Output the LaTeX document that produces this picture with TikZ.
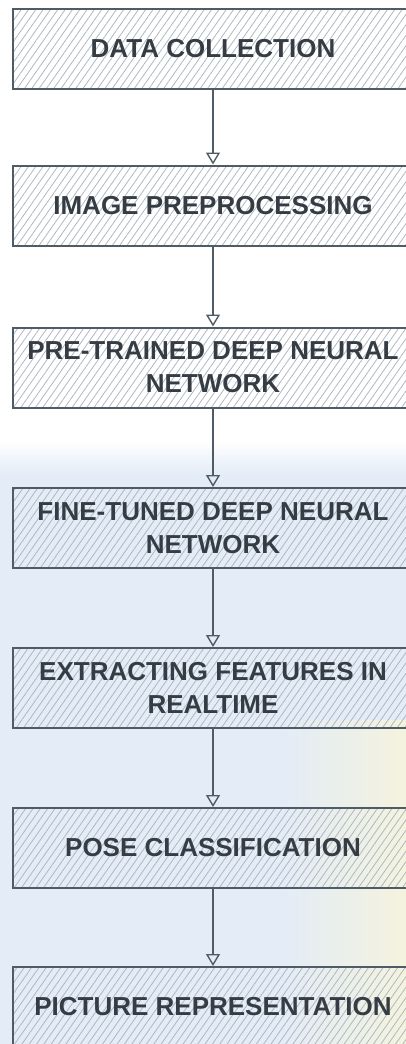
\documentclass[tikz,border=0pt]{standalone}
\usepackage{fontspec}
\setmainfont{Liberation Sans}
\usetikzlibrary{arrows.meta,patterns.meta}
\definecolor{boxline}{HTML}{4F5C66}
\definecolor{txt}{HTML}{353C44}
\definecolor{hatch}{HTML}{AEB8C1}
\definecolor{bgblue}{HTML}{E3ECF7}
\definecolor{bgyellow}{HTML}{F4F3DE}
\tikzset{
  stage/.style={draw=boxline, line width=2pt,
    pattern={Lines[angle=55,distance=6pt,line width=0.8pt]}, pattern color=hatch,
    minimum width=400pt, minimum height=80pt, inner sep=0pt,
    align=center, text=txt, font=\fontsize{26}{33}\selectfont\bfseries},
  flow/.style={draw=boxline, line width=1.6pt,
    -{Triangle[open,length=12pt,width=14pt,line width=1.4pt]}}
}
\begin{document}
\begin{tikzpicture}[x=1pt,y=-1pt]
\useasboundingbox (0,0) rectangle (406,1044);
% faint background of the lower part
\shade[top color=white, bottom color=bgblue] (0,440) rectangle (406,475);
\fill[bgblue] (0,475) rectangle (406,1044);
\shade[left color=bgblue, right color=bgyellow] (280,720) rectangle (406,1044);
% stages
\node[stage] (b1) at (213,48.5) {DATA COLLECTION};
\node[stage] (b2) at (213,205.5) {IMAGE PREPROCESSING};
\node[stage] (b3) at (213,367.5) {PRE-TRAINED DEEP NEURAL\\NETWORK};
\node[stage] (b4) at (213,528) {FINE-TUNED DEEP NEURAL\\NETWORK};
\node[stage] (b5) at (213,688) {EXTRACTING FEATURES IN\\REALTIME};
\node[stage] (b6) at (213,848) {POSE CLASSIFICATION};
\node[stage] (b7) at (213,1007) {PICTURE REPRESENTATION};
% connectors
\draw[flow] (b1) -- (b2);
\draw[flow] (b2) -- (b3);
\draw[flow] (b3) -- (b4);
\draw[flow] (b4) -- (b5);
\draw[flow] (b5) -- (b6);
\draw[flow] (b6) -- (b7);
\end{tikzpicture}
\end{document}
